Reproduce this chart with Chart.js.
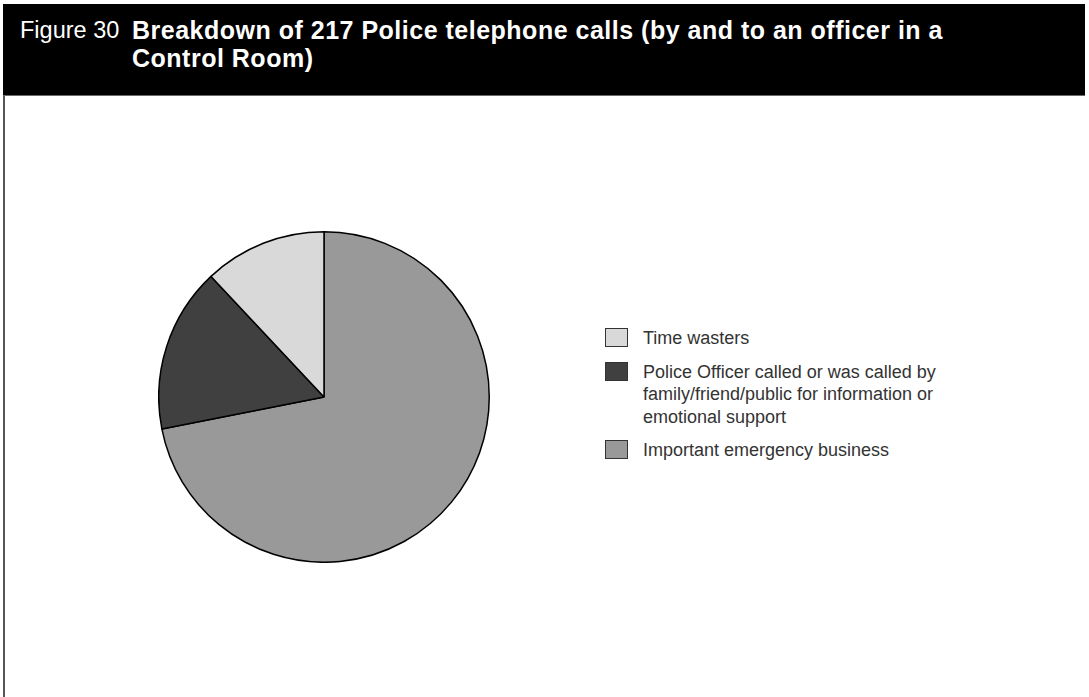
<!DOCTYPE html>
<html>
<head>
<meta charset="utf-8">
<script src="https://cdn.jsdelivr.net/npm/chart.js@4.4.0/dist/chart.umd.min.js"></script>
<style>
  html, body { margin: 0; padding: 0; background: #ffffff; }
  body { width: 1089px; height: 697px; position: relative; overflow: hidden; font-family: "Liberation Sans", Arial, Helvetica, sans-serif; }
  #header { position: absolute; left: 3px; top: 4px; width: 1082px; height: 91px; background: #000; border-bottom: 1.5px solid #6a6a6a; }
  #fig { position: absolute; left: 17px; top: 12px; color: #fff; font-size: 23.5px; line-height: 28px; font-weight: normal; }
  #title { position: absolute; left: 129px; top: 12px; color: #fff; font-size: 25px; line-height: 28px; letter-spacing: 0.5px; font-weight: bold; white-space: nowrap; }
  #frame { position: absolute; left: 3px; top: 96px; width: 0; height: 601px; border-left: 2px solid #555; }
  #pie { position: absolute; left: 158px; top: 231px; }
  #legend { position: absolute; left: 605px; top: 327px; }
  .item { display: flex; align-items: flex-start; margin-bottom: 11px; }
  .box { width: 21px; height: 17px; border: 1.5px solid #333; margin-top: 1px; flex: none; }
  .lbl { margin-left: 15px; font-size: 18px; line-height: 22.5px; color: #333; white-space: nowrap; }
</style>
</head>
<body>
<div id="header">
  <div id="fig">Figure 30</div>
  <div id="title">Breakdown of 217 Police telephone calls (by and to an officer in a<br>Control Room)</div>
</div>
<div id="frame"></div>
<canvas id="pie" width="332" height="332"></canvas>
<div id="legend"></div>
<script>
// Data (clockwise from 12 o'clock)
const categories = [
  "Important emergency business",
  "Police Officer called or was called by family/friend/public for information or emotional support",
  "Time wasters"
];
const legendLines = [
  ["Important emergency business"],
  ["Police Officer called or was called by", "family/friend/public for information or", "emotional support"],
  ["Time wasters"]
];
const callCounts = [156, 35, 26];
const sliceColors = ["#999999", "#404040", "#d9d9d9"];

new Chart(document.getElementById('pie'), {
  type: 'pie',
  data: {
    labels: categories,
    datasets: [{
      data: callCounts,
      backgroundColor: sliceColors,
      borderColor: '#000000',
      borderWidth: 1.5
    }]
  },
  options: {
    responsive: false,
    animation: false,
    layout: { padding: 0 },
    plugins: { legend: { display: false }, tooltip: { enabled: false } }
  }
});

// HTML legend, reversed order as in the reference
const legend = document.getElementById('legend');
for (let i = categories.length - 1; i >= 0; i--) {
  const item = document.createElement('div');
  item.className = 'item';
  const box = document.createElement('div');
  box.className = 'box';
  box.style.background = sliceColors[i];
  const lbl = document.createElement('div');
  lbl.className = 'lbl';
  lbl.innerHTML = legendLines[i].map(s => s.replace(/&/g, '&amp;')).join('<br>');
  item.appendChild(box);
  item.appendChild(lbl);
  legend.appendChild(item);
}
</script>
</body>
</html>
